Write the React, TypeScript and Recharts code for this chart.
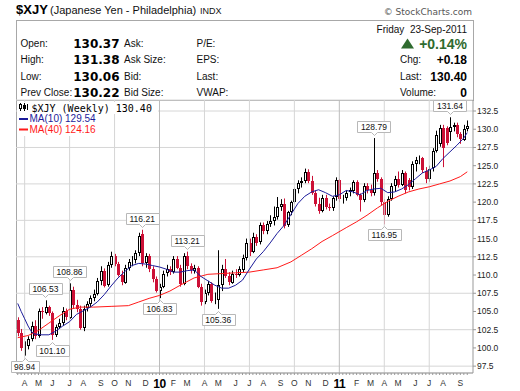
import React from "react";
import {
  ComposedChart, Bar, Line, XAxis, YAxis, CartesianGrid,
  ReferenceLine, ReferenceDot,
} from "recharts";

// weekly bars, Monday dates, first bar = week of 23-Mar-2009
const FIRST_WEEK = Date.UTC(2009, 2, 23);
const DAY = 86400000;

const opens = [
  103.8, 102.0, 100.0, 100.2, 101.2, 103.0, 101.6, 105.0, 104.8, 105.6,
  104.8, 101.8, 102.9, 103.4, 105.0, 104.2, 108.0, 105.9, 105.4, 102.8,
  105.4, 106.0, 106.8, 107.4, 109.2, 110.6, 108.6, 111.4, 112.6, 111.5,
  110.0, 109.0, 111.0, 111.8, 112.0, 113.0, 115.6, 111.6, 112.6, 110.8,
  109.4, 107.8, 108.4, 110.2, 110.8, 110.4, 112.2, 111.0, 108.8, 112.6,
  111.2, 110.6, 111.0, 108.4, 106.4, 107.6, 108.8, 106.4, 106.6, 108.6,
  110.8, 109.8, 109.0, 110.2, 110.0, 110.8, 112.4, 114.4, 113.2, 115.2,
  114.4, 116.8, 116.0, 117.0, 117.4, 118.0, 119.4, 119.8, 116.8, 118.6,
  120.0, 121.8, 122.6, 122.9, 124.2, 122.9, 121.3, 119.8, 118.8, 120.6,
  119.4, 119.2, 120.6, 123.0, 120.4, 120.6, 121.3, 121.6, 122.8, 121.0,
  120.3, 122.2, 121.6, 121.2, 124.0, 123.2, 120.0, 118.2, 120.4, 122.2,
  123.2, 122.4, 124.0, 123.0, 122.1, 125.2, 125.8, 126.0, 124.3, 123.2,
  124.6, 127.0, 128.0, 130.2, 130.2, 129.6, 130.3, 130.6, 129.3, 128.6,
  130.0,
];
const highs = [
  104.2, 102.6, 100.9, 101.6, 103.6, 103.8, 105.4, 105.6, 106.53, 105.8,
  105.0, 103.2, 104.0, 105.6, 105.4, 108.86, 108.4, 106.6, 105.8, 105.8,
  106.4, 107.2, 108.0, 109.6, 111.2, 110.9, 111.8, 113.2, 112.9, 111.8,
  110.6, 111.4, 112.2, 112.6, 113.4, 115.8, 116.21, 113.0, 112.9, 111.2,
  109.8, 108.8, 110.6, 111.4, 111.2, 112.6, 112.6, 111.4, 113.0, 113.21,
  111.6, 111.4, 111.2, 108.8, 108.0, 109.2, 109.0, 107.6, 113.4, 111.4,
  112.2, 110.4, 110.6, 110.8, 111.2, 112.8, 115.0, 115.0, 115.8, 115.6,
  117.2, 117.2, 117.4, 118.2, 119.4, 120.7, 120.4, 120.5, 118.8, 120.2,
  122.0, 123.0, 123.4, 124.6, 124.5, 123.6, 121.6, 120.6, 121.0, 121.0,
  119.8, 120.8, 123.4, 123.2, 121.0, 121.6, 122.0, 123.0, 123.0, 121.2,
  122.6, 122.6, 122.4, 128.79, 124.4, 123.4, 120.4, 120.8, 122.6, 123.6,
  124.2, 124.4, 124.2, 123.3, 125.6, 126.2, 126.4, 126.2, 124.8, 125.0,
  127.4, 129.8, 130.6, 130.6, 130.4, 131.64, 130.9, 130.9, 129.6, 130.6,
  131.2,
];
const lows = [
  101.6, 99.6, 98.94, 99.8, 100.9, 101.2, 101.4, 104.0, 104.6, 104.4,
  101.1, 101.5, 102.6, 103.0, 103.8, 104.0, 105.4, 104.9, 102.5, 102.3,
  105.0, 105.6, 106.4, 107.2, 108.6, 108.3, 108.4, 111.0, 111.2, 109.8,
  108.6, 108.8, 110.6, 111.2, 111.6, 112.6, 111.2, 111.0, 110.4, 109.0,
  107.6, 106.83, 108.2, 109.8, 110.0, 110.2, 110.8, 108.4, 108.6, 110.8,
  110.2, 110.2, 108.2, 105.8, 106.0, 107.2, 106.2, 106.0, 105.36, 107.8,
  109.6, 108.6, 108.8, 109.6, 109.8, 110.4, 112.0, 112.6, 113.0, 114.0,
  114.2, 115.6, 115.6, 116.6, 116.8, 117.6, 118.8, 116.4, 116.6, 118.2,
  119.8, 121.2, 122.0, 122.6, 122.6, 121.0, 119.4, 118.4, 118.6, 119.0,
  118.8, 118.8, 120.2, 120.0, 119.8, 120.2, 120.8, 121.2, 120.8, 118.7,
  120.0, 121.2, 120.8, 120.9, 122.8, 119.6, 116.95, 118.0, 120.2, 121.4,
  122.0, 122.2, 121.2, 121.6, 121.8, 124.2, 125.2, 124.0, 122.6, 122.8,
  124.2, 126.8, 127.6, 124.8, 127.8, 128.4, 129.7, 128.9, 128.0, 128.4,
  129.7,
];
const closes = [
  102.0, 100.0, 100.2, 101.2, 103.0, 101.6, 105.0, 104.8, 105.6, 104.8,
  101.8, 102.9, 103.4, 105.0, 104.2, 108.0, 105.9, 105.4, 102.8, 105.4,
  106.0, 106.8, 107.4, 109.2, 110.6, 108.6, 111.4, 112.6, 111.5, 110.0,
  109.0, 111.0, 111.8, 112.0, 113.0, 115.4, 111.6, 112.6, 110.8, 109.4,
  107.8, 108.4, 110.2, 110.8, 110.4, 112.2, 111.0, 108.8, 112.6, 111.2,
  110.6, 111.0, 108.4, 106.4, 107.6, 108.8, 106.4, 106.6, 108.6, 110.8,
  109.8, 109.0, 110.2, 110.0, 110.8, 112.4, 114.4, 113.2, 115.2, 114.4,
  116.8, 116.0, 117.0, 117.4, 118.0, 119.4, 119.8, 116.8, 118.6, 120.0,
  121.8, 122.6, 122.9, 124.2, 122.9, 121.3, 119.8, 118.8, 120.6, 119.4,
  119.2, 120.6, 123.0, 120.4, 120.6, 121.3, 121.6, 122.8, 121.0, 120.3,
  122.2, 121.6, 121.2, 124.0, 123.2, 120.0, 118.2, 120.4, 122.2, 123.2,
  122.4, 124.0, 121.6, 122.1, 125.2, 125.8, 126.0, 124.3, 123.2, 124.6,
  127.0, 129.2, 130.2, 127.4, 128.2, 130.3, 130.6, 129.3, 128.6, 130.1,
  130.4,
];

// moving averages at these bar indexes
const ma10Weeks = [
  0, 1, 2, 3, 4, 5, 7, 9, 11, 13, 15, 17, 19, 21, 23, 25, 27, 29, 31, 33,
  35, 37, 39, 41, 43, 45, 47, 49, 51, 53, 55, 57, 59, 61, 63, 65, 67, 69, 71, 73,
  75, 77, 79, 81, 83, 85, 87, 89, 91, 93, 95, 97, 99, 101, 103, 105, 107, 109, 111, 113,
  115, 117, 119, 121, 123, 125, 127, 129, 130,
];
const ma10Values = [
  106.1, 105.0, 104.0, 103.0, 102.2, 101.9, 101.8, 101.8, 102.3, 103.0,
  103.6, 104.6, 105.1, 105.6, 106.3, 107.3, 108.5, 109.6, 110.5, 111.3,
  111.6, 111.5, 111.3, 111.1, 110.8, 110.4, 110.4, 110.6, 110.7, 109.8,
  109.2, 108.6, 108.2, 108.2, 108.6, 109.3, 110.8, 112.2, 113.2, 114.4,
  115.7, 116.8, 118.3, 119.8, 120.8, 121.4, 121.7, 121.3, 120.8, 121.0,
  121.6, 121.4, 121.0, 121.6, 121.8, 121.9, 121.3, 121.4, 121.8, 122.4,
  123.2, 124.0, 124.4, 124.9, 126.0, 126.9, 127.8, 128.8, 129.54,
];
const ma40Weeks = [
  0, 3, 6, 9, 12, 15, 18, 22, 27, 32, 35, 38, 41, 44, 47, 51, 55, 59, 63, 67,
  71, 75, 79, 82, 85, 88, 91, 95, 98, 101, 104, 107, 110, 113, 116, 119, 122, 125, 128, 130,
];
const ma40Values = [
  101.4, 101.7, 102.4, 103.4, 104.4, 105.3, 105.6, 105.6, 105.7, 105.8,
  106.3, 106.8, 107.2, 107.8, 108.6, 109.6, 110.1, 110.2, 110.3, 110.4,
  110.7, 111.0, 111.8, 112.7, 113.6, 114.6, 115.4, 116.5, 117.3, 118.2,
  119.2, 120.1, 120.8, 121.4, 121.8, 122.1, 122.5, 122.9, 123.5, 124.16,
];

// high / low call-outs
const tagWeeks = [2, 8, 10, 15, 36, 41, 49, 58, 103, 106, 125];
const tagValues = [98.94, 106.53, 101.1, 108.86, 116.21, 106.83, 113.21, 105.36, 128.79, 116.95, 131.64];
const tagAbove = [false, true, false, true, true, false, true, false, true, false, true];

const quarterWeeks = [2, 15, 28, 41, 54, 67, 80, 93, 106, 119];
const yearWeeks = [41, 93];
const priceTicks = [97.5, 100, 102.5, 105, 107.5, 110, 112.5, 115, 117.5, 120, 122.5, 125, 127.5, 130, 132.5];
const MONTHS = "JFMAMJJASOND";

const RED = "#cc1036";
const GRID = "#d6d6d6";
const FRAME = "#a8a8a8";

const weeks = opens.map((_, i) => new Date(FIRST_WEEK + i * 7 * DAY).toISOString().slice(0, 10));

const data = weeks.map((d, i) => {
  const a = ma10Weeks.indexOf(i);
  const b = ma40Weeks.indexOf(i);
  return {
    d, o: opens[i], h: highs[i], l: lows[i], c: closes[i],
    ma10: a >= 0 ? ma10Values[a] : null,
    ma40: b >= 0 ? ma40Values[b] : null,
  };
});

// first bar of each month gets a letter, January gets the year
const monthLabels: Record<string, { text: string; year: boolean }> = {};
weeks.forEach((d, i) => {
  if (i === 0) return;
  const m = +d.slice(5, 7);
  if (m === +weeks[i - 1].slice(5, 7)) return;
  monthLabels[d] = m === 1 ? { text: d.slice(2, 4), year: true } : { text: MONTHS[m - 1], year: false };
});

function MonthTick({ x, y, payload }: any) {
  const lab = monthLabels[payload.value];
  if (!lab) return null;
  if (lab.year) {
    return (
      <text x={x} y={y + 11} textAnchor="middle" fontSize={12} fontWeight="bold" fill="#000" letterSpacing={-0.5}>
        {lab.text}
      </text>
    );
  }
  return (
    <text x={x} y={y + 9} textAnchor="middle" fontSize={8.5} fill="#333">
      {lab.text}
    </text>
  );
}

function Candle(props: any) {
  const { x, y, width, height, payload } = props;
  if (payload == null || !isFinite(y) || !isFinite(height)) return null;
  const top = Math.min(y, y + height);
  const span = Math.abs(height);
  const { o, h, l, c } = payload;
  const ppu = span / (h - l);
  const cx = Math.round(x + width / 2);
  const yO = top + (h - o) * ppu;
  const yC = top + (h - c) * ppu;
  const bTop = Math.round(Math.min(yO, yC));
  const bH = Math.max(1, Math.round(Math.abs(yO - yC)));
  if (c < o) {
    return (
      <g>
        <line x1={cx + 0.5} x2={cx + 0.5} y1={top} y2={top + span} stroke={RED} />
        <rect x={cx - 1} y={bTop} width={3} height={bH} fill={RED} />
      </g>
    );
  }
  return (
    <g>
      <line x1={cx + 0.5} x2={cx + 0.5} y1={top} y2={top + span} stroke="#000" />
      <rect x={cx - 0.5} y={bTop + 0.5} width={2} height={Math.max(bH - 1, 0)} fill="#fff" stroke="#000" />
    </g>
  );
}

function Tag({ cx, cy, text, above }: any) {
  const w = Math.round(text.length * 4.8 + 4);
  const h = 11;
  const x0 = Math.round(cx - w / 2) + 0.5;
  const mx = Math.round(cx) + 0.5;
  let path: string;
  let ty: number;
  if (above) {
    const yb = Math.round(cy) - 5.5;
    path = `M${x0},${yb - h}H${x0 + w}V${yb}H${mx + 3}L${mx},${yb + 3}L${mx - 3},${yb}H${x0}Z`;
    ty = yb - 2.5;
  } else {
    const yt = Math.round(cy) + 5.5;
    path = `M${x0},${yt}H${mx - 3}L${mx},${yt - 3}L${mx + 3},${yt}H${x0 + w}V${yt + h}H${x0}Z`;
    ty = yt + h - 2.5;
  }
  return (
    <g>
      <path d={path} fill="#fff" stroke="#b8b8b8" />
      <text x={cx} y={ty} textAnchor="middle" fontSize={8.5} fill="#111">{text}</text>
    </g>
  );
}

const hdrLabel = { fontSize: 10, fill: "#111" };
const hdrValue = { fontSize: 12, fontWeight: "bold" as const, fill: "#000", fontFamily: "'DejaVu Sans', Verdana, sans-serif" };
const rightValue = { fontSize: 12, fontWeight: "bold" as const, fill: "#000" };

export default function App() {
  return (
    <div style={{ position: "absolute", left: 0, top: 0, width: 520, height: 391, background: "#fff", fontFamily: "Arial, 'Liberation Sans', sans-serif" }}>
      <div style={{ position: "absolute", left: 16, top: 20, width: 456, height: 79, border: `1px solid ${FRAME}` }} />
      <div style={{ position: "absolute", left: 16, top: 100, width: 1, height: 273, background: FRAME }} />
      <div style={{ position: "absolute", left: 0, top: 0 }}>
        <ComposedChart width={520} height={391} data={data} margin={{ top: 100, right: 0, bottom: 0, left: 16 }}>
          <CartesianGrid horizontal vertical={false} stroke={GRID} />
          {quarterWeeks.map((i) => (
            <ReferenceLine key={i} x={weeks[i]} stroke={yearWeeks.includes(i) ? "#bcbcbc" : GRID} />
          ))}
          <XAxis
            dataKey="d"
            interval={0}
            tick={<MonthTick />}
            tickSize={2}
            tickLine={{ stroke: "#999" }}
            axisLine={{ stroke: "#999" }}
            height={18}
            padding={{ left: 0, right: 4 }}
          />
          <YAxis
            orientation="right"
            type="number"
            domain={[96.56, 134.01]}
            allowDataOverflow
            ticks={priceTicks}
            tickFormatter={(v: number) => v.toFixed(1)}
            width={47}
            tickSize={3}
            tickMargin={1}
            axisLine={{ stroke: "#999" }}
            tickLine={{ stroke: "#999" }}
            tick={{ fontSize: 8.5, fill: "#222" }}
          />
          <Line dataKey="ma40" type="linear" stroke="#ff1a1a" strokeWidth={1} dot={false} connectNulls isAnimationActive={false} />
          <Line dataKey="ma10" type="linear" stroke="#1c1c9a" strokeWidth={1} dot={false} connectNulls isAnimationActive={false} />
          <Bar dataKey={(r: any) => [r.l, r.h]} shape={<Candle />} isAnimationActive={false} />
          {tagWeeks.map((i, n) => (
            <ReferenceDot
              key={`t${i}`}
              x={weeks[i]}
              y={tagValues[n]}
              r={0}
              ifOverflow="visible"
              shape={(p: any) => <Tag cx={p.cx} cy={p.cy} text={tagValues[n].toFixed(2)} above={tagAbove[n]} />}
            />
          ))}
        </ComposedChart>
      </div>
      <svg width={520} height={140} style={{ position: "absolute", left: 0, top: 0, pointerEvents: "none" }}>
        <text x={16} y={14} fontSize={13} fontWeight="bold" fill="#000">$XJY</text>
        <text x={50} y={14} fontSize={11} fill="#111">(Japanese Yen - Philadelphia)</text>
        <text x={200} y={14} fontSize={9} fill="#111">INDX</text>
        <text x={472} y={15} textAnchor="end" fontSize={9} fill="#555" fontFamily="'DejaVu Sans', Verdana, sans-serif">© StockCharts.com</text>

        <text x={20.5} y={46.5} {...hdrLabel}>Open:</text>
        <text x={20.5} y={63} {...hdrLabel}>High:</text>
        <text x={20.5} y={79.5} {...hdrLabel}>Low:</text>
        <text x={20.5} y={96} {...hdrLabel}>Prev Close:</text>
        <text x={119.5} y={47.5} textAnchor="end" {...hdrValue}>130.37</text>
        <text x={119.5} y={64} textAnchor="end" {...hdrValue}>131.38</text>
        <text x={119.5} y={80.5} textAnchor="end" {...hdrValue}>130.06</text>
        <text x={119.5} y={97} textAnchor="end" {...hdrValue}>130.22</text>
        <text x={124} y={46.5} {...hdrLabel}>Ask:</text>
        <text x={124} y={63} {...hdrLabel}>Ask Size:</text>
        <text x={124} y={79.5} {...hdrLabel}>Bid:</text>
        <text x={124} y={96} {...hdrLabel}>Bid Size:</text>
        <text x={196.5} y={46.5} {...hdrLabel}>P/E:</text>
        <text x={196.5} y={63} {...hdrLabel}>EPS:</text>
        <text x={196.5} y={79.5} {...hdrLabel}>Last:</text>
        <text x={196.5} y={96} {...hdrLabel}>VWAP:</text>

        <text x={467} y={32.5} textAnchor="end" {...hdrLabel} style={{ whiteSpace: "pre" }}>{"Friday  23-Sep-2011"}</text>
        <polygon points="401,48.5 414,48.5 407.5,38.5" fill="#2f6b2f" />
        <text x={467} y={48.5} textAnchor="end" fontSize={14} fontWeight="bold" fill="#2f6b2f">+0.14%</text>
        <text x={400} y={63} {...hdrLabel}>Chg:</text>
        <text x={467} y={64} textAnchor="end" {...rightValue}>+0.18</text>
        <text x={400} y={79.5} {...hdrLabel}>Last:</text>
        <text x={467} y={80.5} textAnchor="end" {...rightValue}>130.40</text>
        <text x={400} y={96} {...hdrLabel}>Volume:</text>
        <text x={467} y={97} textAnchor="end" {...rightValue}>0</text>

        <rect x={17} y={102} width={141} height={12} fill="#fff" />
        <line x1={20.5} x2={20.5} y1={103} y2={111} stroke="#000" />
        <rect x={19.5} y={104.5} width={2} height={4} fill="#fff" stroke="#000" />
        <line x1={24.5} x2={24.5} y1={103} y2={111} stroke="#000" />
        <rect x={23} y={105} width={3} height={4} fill="#000" />
        <line x1={27.5} x2={27.5} y1={104} y2={110} stroke="#000" />
        <text x={31.5} y={111.5} fontSize={10} fill="#000" fontFamily="'DejaVu Sans Mono', monospace">$XJY (Weekly) 130.40</text>
        <rect x={17} y={114} width={82} height={11} fill="#fff" />
        <rect x={19} y={118} width={9} height={2} fill="#1c1c9a" />
        <text x={29.5} y={122} fontSize={10} fill="#1c1c9a">MA(10) 129.54</text>
        <rect x={17} y={125} width={82} height={11} fill="#fff" />
        <rect x={19} y={128.5} width={9} height={2} fill="#ff1a1a" />
        <text x={29.5} y={132.5} fontSize={10} fill="#ff1a1a">MA(40) 124.16</text>
      </svg>
    </div>
  );
}
